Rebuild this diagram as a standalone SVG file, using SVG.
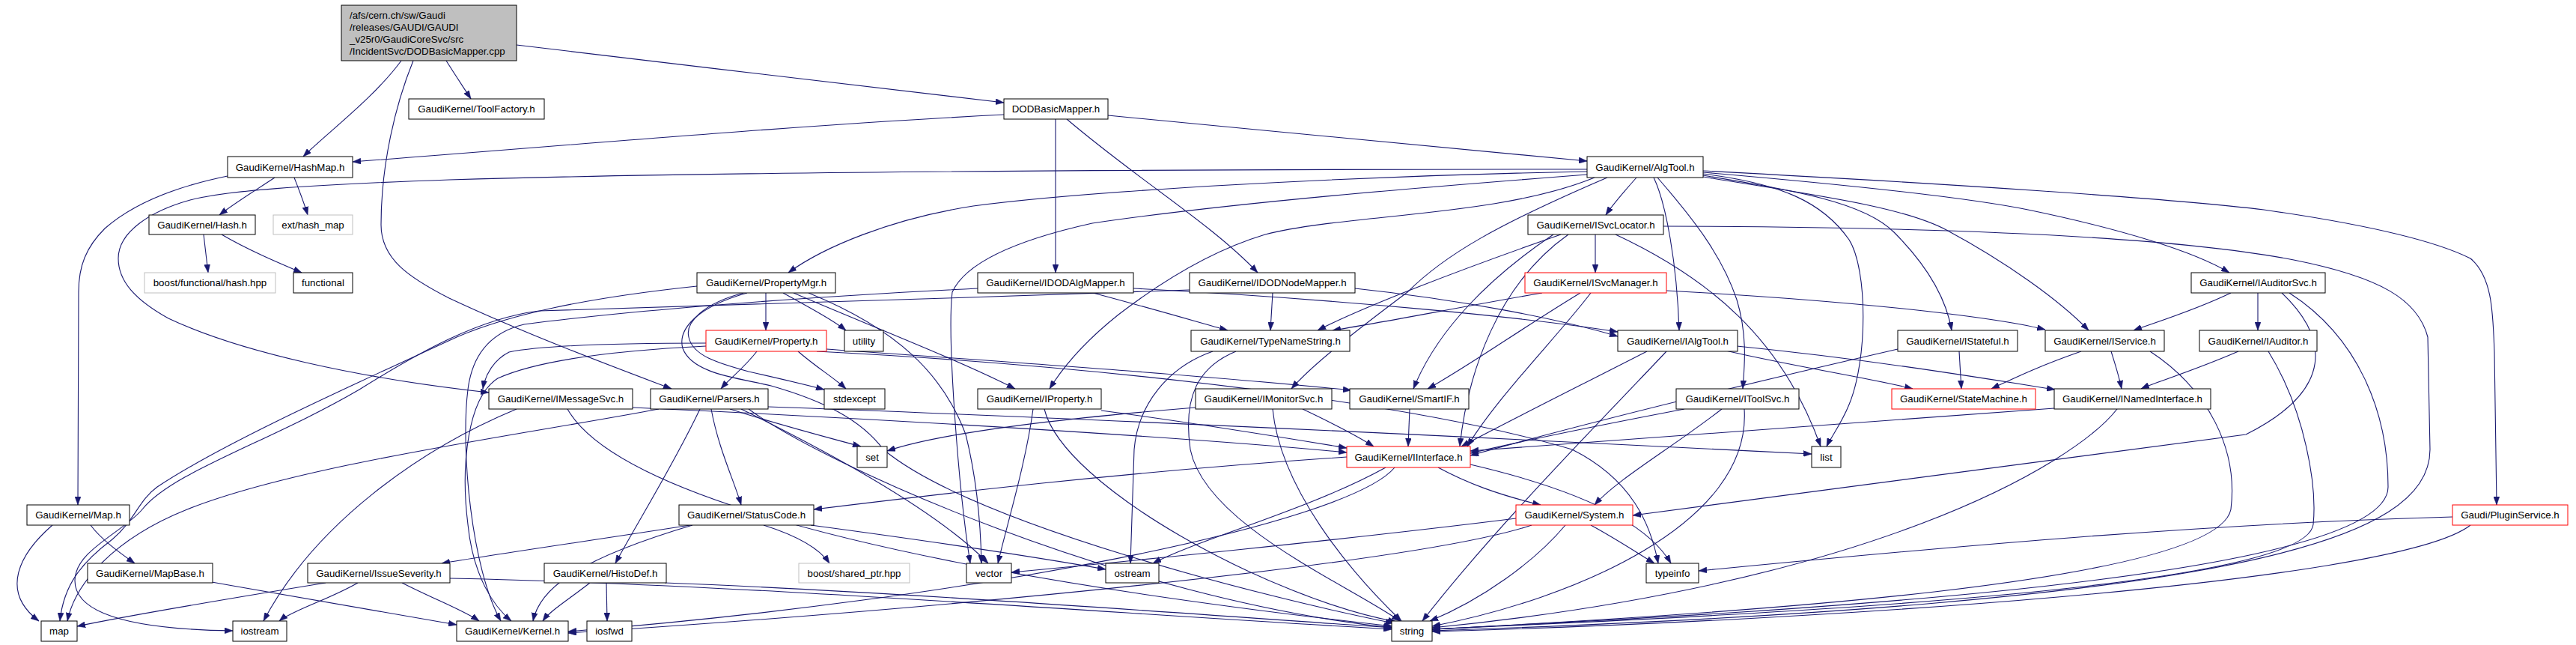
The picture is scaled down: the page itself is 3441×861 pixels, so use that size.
<svg xmlns="http://www.w3.org/2000/svg" width="3441" height="861" viewBox="0 0 3441 861">
<style>
rect{fill:#fff;stroke:#000;stroke-width:1}
.gray rect{stroke:#bfbfbf}
.red rect{stroke:#ff0000}
.root rect{fill:#bfbfbf}
text{font-family:"Liberation Sans",Arial,sans-serif;font-size:13.3px;fill:#000;text-anchor:middle}
.root text{text-anchor:start}
#edges path{fill:none;stroke:#191970;stroke-width:1.1;marker-end:url(#ah)}
</style>
<defs>
<marker id="ah" markerUnits="userSpaceOnUse" markerWidth="11" markerHeight="8" viewBox="0 0 11 8" refX="11" refY="4" orient="auto">
<path d="M0,0 L11,4 L0,8 z" fill="#191970" stroke="#191970" stroke-width="0.5"/>
</marker>
</defs>
<rect x="0" y="0" width="3441" height="861" style="fill:#fff;stroke:none"/>
<g id="edges">
<path d="M536,81 C500,130 440,175 405,209"/>
<path d="M596,81 C608,100 620,118 629,132"/>
<path d="M690,60 C900,85 1150,115 1341,137"/>
<path d="M552,81 C528,140 509,220 509,300 C509,345 545,370 600,398 C700,445 820,490 897,519"/>
<path d="M1341,153 C1050,168 750,195 471,216"/>
<path d="M1480,154 C1700,175 1950,200 2120,215"/>
<path d="M1410,159 L1410,364"/>
<path d="M1425,159 C1520,240 1620,300 1680,364"/>
<path d="M367,237 C340,255 315,270 293,287"/>
<path d="M393,237 C400,255 406,270 411,287"/>
<path d="M304,235 C240,248 180,270 140,305 C115,330 105,355 105,390 L104,674"/>
<path d="M272,313 C274,330 276,348 278,364"/>
<path d="M296,313 C330,333 370,350 403,364"/>
<path d="M70,701 C25,740 0,790 52,829"/>
<path d="M121,701 C135,720 160,738 180,752"/>
<path d="M283,777 C400,798 520,818 610,834"/>
<path d="M2120,226 C1700,226 1000,228 600,240 C400,247 300,255 254,267 C200,282 158,310 158,345 C158,375 180,400 225,425 C320,470 480,505 653,524"/>
<path d="M2120,229 C1800,235 1450,255 1300,275 C1190,292 1100,330 1053,364"/>
<path d="M2130,237 C2000,290 1800,285 1690,313 C1600,340 1520,400 1494,420 C1450,455 1420,490 1402,519"/>
<path d="M2147,237 C2000,300 1930,340 1880,390 C1800,450 1750,490 1725,519"/>
<path d="M2186,237 C2170,255 2155,272 2145,287"/>
<path d="M2120,233 C1900,250 1650,270 1459,298 C1360,320 1290,350 1272,390 C1265,450 1280,650 1296,752"/>
<path d="M2209,237 C2225,270 2240,350 2243,441"/>
<path d="M2214,237 C2260,290 2300,340 2320,400 C2335,450 2330,490 2328,519"/>
<path d="M2275,232 C2380,245 2435,270 2470,320 C2495,360 2495,480 2470,540 C2460,565 2445,585 2440,596"/>
<path d="M2275,234 C2400,255 2490,270 2530,310 C2575,355 2600,400 2607,441"/>
<path d="M2275,236 C2420,260 2540,275 2600,307 C2680,350 2750,400 2790,441"/>
<path d="M2275,230 C2450,245 2620,262 2709,280 C2830,305 2930,335 2978,364"/>
<path d="M2275,228 C2600,245 2900,265 3024,280 C3150,298 3250,320 3300,345 C3330,370 3330,420 3332,470 L3335,674"/>
<path d="M1023,391 L1023,441"/>
<path d="M1046,391 C1080,410 1110,425 1130,441"/>
<path d="M993,391 C940,405 915,430 920,450 C925,475 960,485 1000,496 C1040,505 1070,512 1101,520"/>
<path d="M1060,391 C1150,430 1280,480 1356,519"/>
<path d="M931,382 C780,398 680,420 610,450 C480,510 300,590 210,650 C185,668 180,695 150,720 C110,750 85,780 80,829"/>
<path d="M998,391 C930,410 905,440 912,465 C925,500 990,505 1030,515 C1100,535 1150,560 1180,600 C1300,700 1700,800 1862,832"/>
<path d="M1080,391 C1200,440 1260,500 1290,580 C1305,640 1310,700 1311,752"/>
<path d="M1011,469 C995,490 975,505 963,519"/>
<path d="M1066,469 C1090,490 1115,505 1130,519"/>
<path d="M1104,466 C1300,480 1600,500 1805,521"/>
<path d="M943,458 C800,458 720,462 680,470 C660,480 648,500 645,519"/>
<path d="M943,462 C820,468 720,480 665,505 C625,530 615,620 625,700 C632,770 660,810 683,829"/>
<path d="M1091,469 C1500,490 1900,540 2100,600 C2180,640 2205,700 2215,752"/>
<path d="M1306,385 C1000,400 800,420 700,433 C650,445 630,480 625,520 C615,600 630,760 669,829"/>
<path d="M1589,387 C1300,398 1000,405 720,415 C640,425 560,470 480,520 C360,590 230,630 190,680 C165,710 100,735 100,775 C100,815 160,840 311,842"/>
<path d="M880,546 C700,580 400,620 250,680 C150,720 100,780 90,829"/>
<path d="M935,546 C900,620 850,700 822,752"/>
<path d="M950,546 C960,600 980,640 990,674"/>
<path d="M975,546 C1050,570 1110,585 1150,596"/>
<path d="M990,546 C1100,600 1250,680 1320,752"/>
<path d="M1000,546 C1100,620 1500,800 1860,838"/>
<path d="M1026,543 C1500,560 2100,590 2420,606"/>
<path d="M1460,391 C1550,415 1600,430 1640,441"/>
<path d="M1514,385 C1800,400 2050,425 2161,443"/>
<path d="M1700,391 L1697,441"/>
<path d="M1810,385 C1950,400 2080,425 2161,449"/>
<path d="M2131,313 L2131,364"/>
<path d="M2085,313 C1950,360 1820,410 1760,441"/>
<path d="M2095,313 C2000,380 1960,500 1950,596"/>
<path d="M2075,313 C1990,370 1920,440 1888,519"/>
<path d="M2158,313 C2280,370 2380,450 2432,596"/>
<path d="M2222,302 C2600,303 2900,315 3064,347 C3180,370 3230,400 3243,450 L3246,600 C3246,720 3000,805 1913,842"/>
<path d="M2060,391 C1950,410 1850,430 1780,441"/>
<path d="M2111,391 C2030,440 1960,490 1907,519"/>
<path d="M2226,388 C2450,400 2650,420 2732,440"/>
<path d="M2125,391 C2080,450 2000,530 1960,596"/>
<path d="M1620,469 C1560,490 1520,540 1515,600 L1510,752"/>
<path d="M1651,469 C1600,490 1580,530 1590,600 C1610,700 1800,780 1870,829"/>
<path d="M845,544 C1200,560 1600,585 1799,604"/>
<path d="M690,546 C560,600 420,700 352,829"/>
<path d="M758,546 C800,620 1000,740 1860,836"/>
<path d="M1471,548 C1600,565 1720,585 1799,598"/>
<path d="M1395,546 C1420,650 1700,800 1865,830"/>
<path d="M1380,546 C1370,620 1345,700 1333,752"/>
<path d="M1597,544 C1400,560 1250,580 1185,602"/>
<path d="M1740,546 C1780,565 1810,580 1835,596"/>
<path d="M1700,546 C1710,650 1800,760 1872,829"/>
<path d="M1883,546 L1881,596"/>
<path d="M2250,546 C2150,565 2050,585 1964,605"/>
<path d="M2300,546 C2230,600 2160,640 2130,674"/>
<path d="M2330,546 C2340,700 2100,800 1913,836"/>
<path d="M2200,469 C2100,520 2000,570 1952,596"/>
<path d="M2305,468 C2400,490 2500,505 2555,519"/>
<path d="M2320,462 C2500,480 2650,505 2745,520"/>
<path d="M2226,469 C2150,550 2000,700 1900,829"/>
<path d="M2617,469 L2620,519"/>
<path d="M2535,466 C2300,520 2100,570 1964,608"/>
<path d="M2780,469 C2720,490 2690,505 2660,519"/>
<path d="M2820,469 C2825,485 2830,500 2834,519"/>
<path d="M2872,469 C2950,520 2990,600 2980,680 C2960,780 2300,820 1913,840"/>
<path d="M2980,391 C2930,415 2880,430 2850,441"/>
<path d="M3016,391 L3016,441"/>
<path d="M3048,391 C3110,450 3120,520 3000,580 C2700,620 2400,660 2181,688"/>
<path d="M3058,391 C3150,450 3190,550 3190,650 C3190,780 2300,820 1913,840"/>
<path d="M2990,469 C2930,495 2880,510 2860,519"/>
<path d="M3030,469 C3080,550 3095,650 3090,700 C3080,790 2300,822 1913,840"/>
<path d="M2744,545 C2400,570 2100,590 1964,602"/>
<path d="M2828,546 C2770,620 2500,780 1913,838"/>
<path d="M1799,610 C1500,630 1250,660 1087,680"/>
<path d="M1851,624 C1750,680 1600,720 1540,752"/>
<path d="M1863,624 C1800,700 1300,800 759,843"/>
<path d="M1921,624 C1960,645 2000,660 2058,674"/>
<path d="M1964,620 C2050,640 2190,680 2232,752"/>
<path d="M2025,692 C1800,720 1500,750 1351,764"/>
<path d="M2046,701 C1900,750 1300,810 759,845"/>
<path d="M2091,701 C2050,750 1980,800 1910,829"/>
<path d="M2125,701 C2160,720 2190,740 2210,752"/>
<path d="M922,701 C800,720 660,740 590,752"/>
<path d="M925,701 C760,750 720,790 712,829"/>
<path d="M1020,701 C1080,720 1100,740 1108,752"/>
<path d="M1083,701 C1300,730 1420,750 1477,760"/>
<path d="M435,778 C300,800 180,820 103,836"/>
<path d="M478,778 C440,800 390,815 373,829"/>
<path d="M537,778 C580,800 620,815 640,829"/>
<path d="M601,772 C1000,780 1500,820 1859,840"/>
<path d="M788,778 C760,800 735,815 725,829"/>
<path d="M810,778 L811,829"/>
<path d="M888,778 C1200,790 1600,820 1859,838"/>
<path d="M3276,690 C2900,700 2500,740 2269,762"/>
<path d="M3300,701 C3200,780 2400,830 1913,843"/>
</g>
<g id="n_root" class="root"><rect x="456" y="7" width="234" height="74"/><text x="467" y="24.5">/afs/cern.ch/sw/Gaudi</text><text x="467" y="40.5">/releases/GAUDI/GAUDI</text><text x="467" y="56.5">_v25r0/GaudiCoreSvc/src</text><text x="467" y="72.5">/IncidentSvc/DODBasicMapper.cpp</text></g>
<g id="n_toolfactory"><rect x="546" y="132" width="181" height="27"/><text x="636.5" y="150.2">GaudiKernel/ToolFactory.h</text></g>
<g id="n_dodbm"><rect x="1341" y="132" width="139" height="27"/><text x="1410.5" y="150.2">DODBasicMapper.h</text></g>
<g id="n_hashmap"><rect x="304" y="209" width="167" height="28"/><text x="387.5" y="227.7">GaudiKernel/HashMap.h</text></g>
<g id="n_algtool"><rect x="2120" y="209" width="155" height="28"/><text x="2197.5" y="227.7">GaudiKernel/AlgTool.h</text></g>
<g id="n_hash"><rect x="199" y="287" width="142" height="26"/><text x="270" y="304.7">GaudiKernel/Hash.h</text></g>
<g id="n_exthash" class="gray"><rect x="365" y="287" width="106" height="26"/><text x="418" y="304.7">ext/hash_map</text></g>
<g id="n_isvclocator"><rect x="2041" y="287" width="181" height="26"/><text x="2131.5" y="304.7">GaudiKernel/ISvcLocator.h</text></g>
<g id="n_boosthash" class="gray"><rect x="193" y="364" width="175" height="27"/><text x="280.5" y="382.2">boost/functional/hash.hpp</text></g>
<g id="n_functional"><rect x="392" y="364" width="79" height="27"/><text x="431.5" y="382.2">functional</text></g>
<g id="n_propertymgr"><rect x="931" y="364" width="185" height="27"/><text x="1023.5" y="382.2">GaudiKernel/PropertyMgr.h</text></g>
<g id="n_idodalgmapper"><rect x="1306" y="364" width="208" height="27"/><text x="1410" y="382.2">GaudiKernel/IDODAlgMapper.h</text></g>
<g id="n_idodnodemapper"><rect x="1589" y="364" width="221" height="27"/><text x="1699.5" y="382.2">GaudiKernel/IDODNodeMapper.h</text></g>
<g id="n_isvcmanager" class="red"><rect x="2037" y="364" width="189" height="27"/><text x="2131.5" y="382.2">GaudiKernel/ISvcManager.h</text></g>
<g id="n_iauditorsvc"><rect x="2927" y="364" width="179" height="27"/><text x="3016.5" y="382.2">GaudiKernel/IAuditorSvc.h</text></g>
<g id="n_property" class="red"><rect x="943" y="441" width="161" height="28"/><text x="1023.5" y="459.7">GaudiKernel/Property.h</text></g>
<g id="n_utility"><rect x="1128" y="441" width="52" height="28"/><text x="1154" y="459.7">utility</text></g>
<g id="n_typenamestring"><rect x="1591" y="441" width="212" height="28"/><text x="1697" y="459.7">GaudiKernel/TypeNameString.h</text></g>
<g id="n_ialgtool"><rect x="2161" y="441" width="160" height="28"/><text x="2241" y="459.7">GaudiKernel/IAlgTool.h</text></g>
<g id="n_istateful"><rect x="2535" y="441" width="160" height="28"/><text x="2615" y="459.7">GaudiKernel/IStateful.h</text></g>
<g id="n_iservice"><rect x="2732" y="441" width="159" height="28"/><text x="2811.5" y="459.7">GaudiKernel/IService.h</text></g>
<g id="n_iauditor"><rect x="2938" y="441" width="157" height="28"/><text x="3016.5" y="459.7">GaudiKernel/IAuditor.h</text></g>
<g id="n_imessagesvc"><rect x="653" y="519" width="192" height="27"/><text x="749" y="537.2">GaudiKernel/IMessageSvc.h</text></g>
<g id="n_parsers"><rect x="869" y="519" width="157" height="27"/><text x="947.5" y="537.2">GaudiKernel/Parsers.h</text></g>
<g id="n_stdexcept"><rect x="1101" y="519" width="81" height="27"/><text x="1141.5" y="537.2">stdexcept</text></g>
<g id="n_iproperty"><rect x="1306" y="519" width="165" height="27"/><text x="1388.5" y="537.2">GaudiKernel/IProperty.h</text></g>
<g id="n_imonitorsvc"><rect x="1597" y="519" width="182" height="27"/><text x="1688" y="537.2">GaudiKernel/IMonitorSvc.h</text></g>
<g id="n_smartif"><rect x="1803" y="519" width="159" height="27"/><text x="1882.5" y="537.2">GaudiKernel/SmartIF.h</text></g>
<g id="n_itoolsvc"><rect x="2239" y="519" width="164" height="27"/><text x="2321" y="537.2">GaudiKernel/IToolSvc.h</text></g>
<g id="n_statemachine" class="red"><rect x="2527" y="519" width="192" height="27"/><text x="2623" y="537.2">GaudiKernel/StateMachine.h</text></g>
<g id="n_inamedinterface"><rect x="2744" y="519" width="209" height="27"/><text x="2848.5" y="537.2">GaudiKernel/INamedInterface.h</text></g>
<g id="n_set"><rect x="1145" y="596" width="40" height="28"/><text x="1165" y="614.7">set</text></g>
<g id="n_iinterface" class="red"><rect x="1799" y="596" width="165" height="28"/><text x="1881.5" y="614.7">GaudiKernel/IInterface.h</text></g>
<g id="n_list"><rect x="2420" y="596" width="39" height="28"/><text x="2439.5" y="614.7">list</text></g>
<g id="n_map_h"><rect x="36" y="674" width="137" height="27"/><text x="104.5" y="692.2">GaudiKernel/Map.h</text></g>
<g id="n_statuscode"><rect x="907" y="674" width="180" height="27"/><text x="997" y="692.2">GaudiKernel/StatusCode.h</text></g>
<g id="n_system" class="red"><rect x="2025" y="674" width="156" height="27"/><text x="2103" y="692.2">GaudiKernel/System.h</text></g>
<g id="n_pluginservice" class="red"><rect x="3276" y="674" width="154" height="27"/><text x="3353" y="692.2">Gaudi/PluginService.h</text></g>
<g id="n_mapbase"><rect x="117" y="752" width="167" height="26"/><text x="200.5" y="769.7">GaudiKernel/MapBase.h</text></g>
<g id="n_issueseverity"><rect x="411" y="752" width="190" height="26"/><text x="506" y="769.7">GaudiKernel/IssueSeverity.h</text></g>
<g id="n_histodef"><rect x="727" y="752" width="163" height="26"/><text x="808.5" y="769.7">GaudiKernel/HistoDef.h</text></g>
<g id="n_boostshared" class="gray"><rect x="1067" y="752" width="148" height="26"/><text x="1141" y="769.7">boost/shared_ptr.hpp</text></g>
<g id="n_vector"><rect x="1291" y="752" width="60" height="26"/><text x="1321" y="769.7">vector</text></g>
<g id="n_ostream"><rect x="1477" y="752" width="71" height="26"/><text x="1512.5" y="769.7">ostream</text></g>
<g id="n_typeinfo"><rect x="2199" y="752" width="70" height="26"/><text x="2234" y="769.7">typeinfo</text></g>
<g id="n_map"><rect x="55" y="829" width="48" height="27"/><text x="79" y="847.2">map</text></g>
<g id="n_iostream"><rect x="311" y="829" width="72" height="27"/><text x="347" y="847.2">iostream</text></g>
<g id="n_kernel"><rect x="610" y="829" width="149" height="27"/><text x="684.5" y="847.2">GaudiKernel/Kernel.h</text></g>
<g id="n_iosfwd"><rect x="784" y="829" width="60" height="27"/><text x="814" y="847.2">iosfwd</text></g>
<g id="n_string"><rect x="1859" y="829" width="54" height="27"/><text x="1886" y="847.2">string</text></g>
</svg>
